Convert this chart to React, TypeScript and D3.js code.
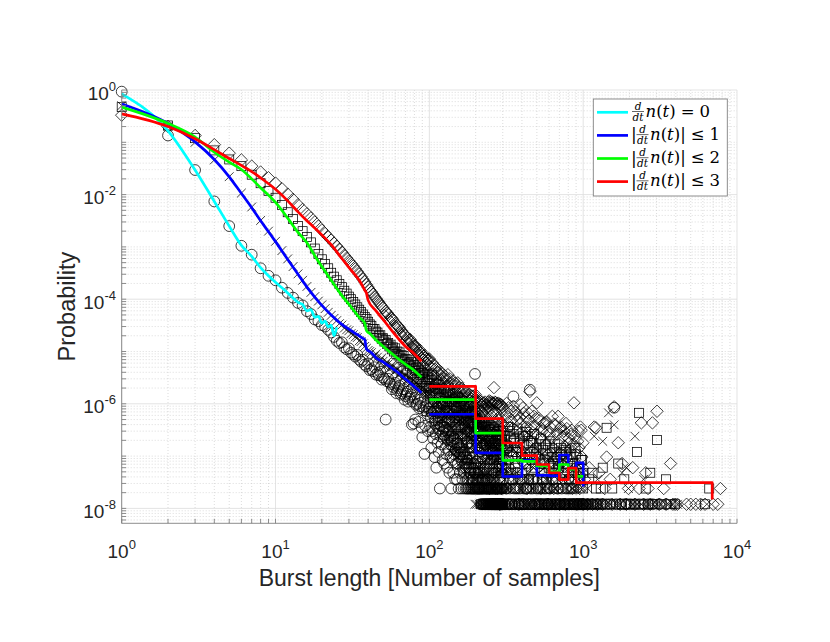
import React from 'react';
import * as d3 from 'd3';

type Pt = [number, number];

// one count in the tail histograms, as a probability
const UNIT = 1.2e-8;

// smoothed curves (burst length, probability)
const CYAN_LINE: Pt[] = [
  [1, 0.84], [2, 0.166], [3, 0.0295], [4, 0.0074], [5, 0.0025], [6, 0.00107], [7, 6.6e-4], [8, 4.0e-4],
  [9, 2.8e-4], [10, 2.1e-4], [11, 1.66e-4], [12, 1.32e-4], [13, 1.05e-4], [14, 8.7e-5], [15, 7.9e-5],
  [16, 6.0e-5], [17, 6.3e-5], [18, 4.5e-5], [19, 4.7e-5], [20, 3.5e-5], [21, 3.8e-5], [22, 2.95e-5],
  [23, 3.2e-5], [24, 2.0e-5], [25, 2.9e-5],
];
const BLUE_LINE: Pt[] = [
  [1, 0.54], [2, 0.229], [3, 0.102], [4, 0.0468], [5, 0.0219], [6, 0.0105], [7, 0.00562], [8, 0.00316],
  [9, 0.00195], [10, 0.00126], [12, 5.75e-4], [14, 3.0e-4], [16, 1.7e-4], [18, 1.1e-4], [20, 7.6e-5],
  [23, 5.0e-5], [27, 3.3e-5], [31, 2.5e-5], [34, 2.1e-5], [37, 1.78e-5], [38, 1.7e-5], [39, 1.12e-5],
  [42, 9.5e-6], [45, 7.6e-6], [50, 6.3e-6], [56, 5.0e-6], [61, 4.2e-6], [67, 3.3e-6], [75, 2.5e-6],
  [82, 2.0e-6], [89, 1.62e-6],
];
const GREEN_LINE: Pt[] = [
  [1, 0.47], [2, 0.229], [3, 0.126], [4, 0.0646], [5, 0.0417], [6, 0.0302], [7, 0.02], [8, 0.0135],
  [10, 0.00708], [12, 0.00355], [14, 0.0019], [16, 0.0012], [18, 6.8e-4], [20, 4.2e-4], [23, 2.3e-4],
  [27, 1.17e-4], [31, 7.1e-5], [35, 4.5e-5], [38, 3.5e-5], [39, 2.5e-5], [41, 2.2e-5], [45, 1.66e-5],
  [50, 1.26e-5], [57, 9.1e-6], [64, 6.9e-6], [71, 5.5e-6], [79, 4.4e-6], [89, 3.2e-6],
];
const RED_LINE: Pt[] = [
  [1, 0.35], [2, 0.2], [3, 0.117], [4, 0.0724], [5, 0.049], [6, 0.0363], [7, 0.0275], [8, 0.0209],
  [10, 0.0126], [12, 0.00759], [14, 0.00468], [16, 0.00316], [18, 0.00229], [20, 0.0017], [23, 0.0011],
  [27, 6.0e-4], [31, 3.6e-4], [35, 2.3e-4], [38, 1.5e-4], [39, 1.3e-4], [40, 9.5e-5], [45, 6.0e-5],
  [50, 4.1e-5], [57, 2.5e-5], [64, 1.66e-5], [71, 1.2e-5], [79, 9.3e-6], [89, 6.5e-6],
];

// binned tails, drawn as stairs
const BLUE_STEPS: Pt[] = [
  [100, 6.31e-7], [200, 1.15e-7], [300, 4.07e-8], [400, 8.3e-8], [500, 4.27e-8], [600, 4.17e-8],
  [700, 1.05e-7], [800, 5.9e-8], [900, 7.4e-8], [1000, 2.63e-8],
];
const GREEN_STEPS: Pt[] = [
  [100, 1.2e-6], [200, 2.75e-7], [300, 8.3e-8], [400, 7.9e-8], [500, 6.5e-8], [600, 5.0e-8],
  [700, 6.9e-8], [800, 5.6e-8], [900, 4.1e-8], [1000, 4.1e-8],
];
const RED_STEPS: Pt[] = [
  [100, 2.15e-6], [200, 5.2e-7], [300, 1.78e-7], [400, 1.02e-7], [500, 6.9e-8], [600, 4.8e-8],
  [700, 3.55e-8], [800, 5.9e-8], [900, 3.1e-8], [6900, 1.48e-8],
];

// raw probabilities for burst lengths 1..99
const CIRCLE_HEAD = [
  0.93, 0.135, 0.0295, 0.0074, 0.0025, 0.00105, 7.1e-4, 3.9e-4, 2.8e-4, 2.3e-4,
  1.66e-4, 1.32e-4, 1.07e-4, 8.5e-5, 7.6e-5, 5.9e-5, 5.2e-5, 4.1e-5, 3.8e-5, 3.2e-5,
  3.0e-5, 2.6e-5, 2.3e-5, 1.9e-5, 1.6e-5, 1.45e-5, 1.5e-5, 1.2e-5, 1.1e-5, 1.15e-5,
  9.5e-6, 8.8e-6, 8.0e-6, 8.6e-6, 7.0e-6, 6.4e-6, 6.9e-6, 5.6e-6, 5.2e-6, 5.9e-6,
  4.4e-6, 4.6e-6, 4.2e-6, 5.0e-6, 3.6e-6, 3.9e-6, 3.5e-6, 4.1e-6, 2.9e-6, 3.2e-6,
  3.0e-6, 5.0e-7, 2.7e-6, 3.0e-6, 2.6e-6, 2.4e-6, 1.9e-6, 2.1e-6, 2.3e-6, 2.5e-6,
  1.6e-6, 1.8e-6, 2.0e-6, 2.2e-6, 1.5e-6, 1.6e-6, 1.75e-6, 1.9e-6, 1.2e-6, 1.4e-6,
  1.55e-6, 1.7e-6, 1.1e-6, 1.25e-6, 1.35e-6, 1.5e-6, 4.0e-7, 1.1e-6, 4.2e-7, 1.3e-6,
  5.0e-7, 9.5e-7, 1.0e-6, 1.2e-6, 4.5e-7, 8.2e-7, 9.0e-7, 1.05e-6, 3.5e-7, 2.3e-7,
  7.5e-7, 8.5e-7, 1.1e-7, 3.8e-7, 9.0e-7, 7.2e-7, 6.4e-7, 3.0e-7, 8.0e-7,
];
const XMARK_HEAD = [
  0.5, 0.2, 0.1, 0.046, 0.022, 0.0107, 0.0058, 0.0032, 0.002, 0.00128,
  8.5e-4, 5.9e-4, 4.2e-4, 3.05e-4, 2.3e-4, 1.75e-4, 1.35e-4, 1.12e-4, 9.2e-5, 7.8e-5,
  6.6e-5, 5.6e-5, 4.9e-5, 4.3e-5, 3.9e-5, 3.4e-5, 3.2e-5, 2.8e-5, 2.6e-5, 2.5e-5,
  2.2e-5, 2.1e-5, 1.9e-5, 1.85e-5, 1.6e-5, 1.55e-5, 1.4e-5, 1.25e-5, 1.15e-5, 1.05e-5,
  1.0e-5, 9.5e-6, 8.0e-6, 8.2e-6, 9.0e-6, 7.8e-6, 6.2e-6, 6.9e-6, 7.5e-6, 6.5e-6,
  5.2e-6, 5.6e-6, 6.3e-6, 5.8e-6, 4.6e-6, 4.9e-6, 5.5e-6, 5.1e-6, 4.0e-6, 4.3e-6,
  4.8e-6, 4.5e-6, 3.5e-6, 3.8e-6, 4.2e-6, 3.9e-6, 3.0e-6, 3.3e-6, 3.7e-6, 3.5e-6,
  2.6e-6, 2.9e-6, 3.3e-6, 3.1e-6, 2.4e-6, 2.6e-6, 3.0e-6, 2.8e-6, 2.0e-6, 2.3e-6,
  2.7e-6, 2.5e-6, 1.8e-6, 2.1e-6, 2.4e-6, 2.2e-6, 1.6e-6, 1.9e-6, 2.2e-6, 2.0e-6,
  1.5e-6, 1.7e-6, 2.0e-6, 1.8e-6, 1.35e-6, 1.5e-6, 1.8e-6, 1.65e-6, 1.3e-6,
];
const SQUARE_HEAD = [
  0.47, 0.21, 0.12, 0.07, 0.047, 0.035, 0.024, 0.0165, 0.0118, 0.0087,
  0.0063, 0.0046, 0.0034, 0.0025, 0.002, 0.00155, 0.00122, 9.3e-4, 7.3e-4, 5.8e-4,
  4.7e-4, 3.9e-4, 3.2e-4, 2.7e-4, 2.3e-4, 1.95e-4, 1.7e-4, 1.45e-4, 1.28e-4, 1.12e-4,
  1.0e-4, 8.8e-5, 7.9e-5, 7.0e-5, 6.3e-5, 5.7e-5, 5.1e-5, 4.6e-5, 4.2e-5, 3.7e-5,
  3.3e-5, 3.1e-5, 2.7e-5, 2.7e-5, 2.4e-5, 2.3e-5, 2.0e-5, 2.05e-5, 1.75e-5, 1.8e-5,
  1.55e-5, 1.65e-5, 1.4e-5, 1.45e-5, 1.25e-5, 1.35e-5, 1.1e-5, 1.2e-5, 1.0e-5, 1.15e-5,
  9.0e-6, 1.0e-5, 8.4e-6, 9.6e-6, 7.6e-6, 8.5e-6, 7.0e-6, 8.2e-6, 6.4e-6, 7.2e-6,
  4.5e-6, 7.0e-6, 5.8e-6, 6.1e-6, 5.2e-6, 6.3e-6, 3.8e-6, 5.4e-6, 4.7e-6, 5.5e-6,
  4.3e-6, 4.8e-6, 3.0e-6, 5.0e-6, 3.9e-6, 4.3e-6, 3.6e-6, 4.5e-6, 2.6e-6, 3.9e-6,
  3.3e-6, 4.0e-6, 3.0e-6, 3.5e-6, 2.2e-6, 3.7e-6, 2.8e-6, 3.2e-6, 2.0e-6,
];
const DIAMOND_HEAD = [
  0.33, 0.2, 0.135, 0.09, 0.062, 0.046, 0.035, 0.027, 0.021, 0.0166,
  0.013, 0.0102, 0.0081, 0.0064, 0.0052, 0.0043, 0.0036, 0.003, 0.0025, 0.0021,
  0.0018, 0.00155, 0.00135, 0.00118, 0.00103, 9.0e-4, 7.9e-4, 6.9e-4, 6.1e-4, 5.4e-4,
  4.8e-4, 4.3e-4, 3.8e-4, 3.4e-4, 3.0e-4, 2.7e-4, 2.4e-4, 2.15e-4, 1.9e-4, 1.7e-4,
  1.5e-4, 1.38e-4, 1.25e-4, 1.13e-4, 1.03e-4, 9.4e-5, 8.7e-5, 7.9e-5, 7.3e-5, 6.8e-5,
  4.9e-5, 5.9e-5, 5.5e-5, 5.1e-5, 3.9e-5, 4.5e-5, 4.3e-5, 4.0e-5, 3.1e-5, 3.5e-5,
  2.8e-5, 3.1e-5, 3.0e-5, 2.8e-5, 2.2e-5, 2.5e-5, 1.9e-5, 2.2e-5, 2.1e-5, 2.0e-5,
  1.6e-5, 1.8e-5, 1.4e-5, 1.65e-5, 1.7e-5, 1.5e-5, 1.2e-5, 1.38e-5, 1.1e-5, 1.27e-5,
  1.3e-5, 1.17e-5, 9.5e-6, 1.08e-5, 8.5e-6, 1.0e-5, 1.05e-5, 9.3e-6, 7.5e-6, 8.7e-6,
  6.8e-6, 8.1e-6, 8.5e-6, 7.6e-6, 6.2e-6, 7.1e-6, 5.6e-6, 6.7e-6, 7.0e-6,
];

// raw counts for burst lengths 100..299
const CIRCLE_MID = [
  70, 30, 45, 12, 55, 25, 18, 60, 8, 40, 22, 5, 35, 15, 48, 10, 28, 2, 20, 32,
  14, 38, 7, 25, 18, 6, 30, 12, 22, 9, 26, 5, 17, 11, 24, 4, 19, 8, 14, 2,
  16, 7, 21, 4, 13, 9, 18, 3, 11, 6, 15, 3, 10, 6, 14, 2, 8, 12, 4, 9,
  11, 2, 7, 13, 3, 9, 5, 2, 10, 4, 6, 9, 2, 5, 8, 2, 7, 3, 2, 6,
  2, 5, 3, 8, 2, 4, 2, 6, 3, 2, 5, 2, 3, 2, 6, 2, 4, 2, 310, 3,
  2, 4, 2, 3, 2, 5, 2, 2, 3, 2, 3, 2, 2, 4, 2, 1, 3, 2, 2, 1,
  2, 3, 1, 2, 2, 4, 1, 2, 3, 1, 2, 1, 3, 2, 1, 2, 2, 1, 3, 2,
  1, 2, 2, 1, 3, 1, 2, 1, 2, 2, 1, 3, 1, 2, 1, 2, 1, 1, 2, 1,
  2, 1, 2, 1, 1, 3, 1, 2, 1, 1, 1, 2, 1, 1, 2, 1, 1, 2, 1, 2,
  1, 1, 2, 1, 1, 1, 2, 1, 1, 1, 2, 1, 1, 1, 2, 1, 1, 1, 2, 1,
];
const XMARK_MID = [
  120, 60, 95, 30, 140, 75, 45, 110, 25, 85, 65, 100, 35, 80, 20, 90, 50, 28, 70, 42,
  85, 22, 60, 40, 15, 70, 48, 30, 62, 18, 55, 35, 75, 14, 45, 20, 65, 28, 10, 50,
  12, 48, 30, 58, 9, 40, 22, 52, 15, 35, 45, 8, 30, 55, 11, 38, 20, 6, 42, 25,
  5, 35, 22, 48, 10, 28, 4, 18, 40, 24, 14, 32, 3, 21, 38, 8, 28, 4, 19, 30,
  16, 3, 30, 12, 22, 2, 26, 7, 18, 29, 6, 20, 2, 27, 10, 17, 3, 24, 1, 31,
  12, 3, 22, 1, 17, 7, 20, 2, 14, 5, 19, 1, 10, 21, 2, 15, 1, 12, 6, 17,
  4, 18, 1, 11, 1, 16, 5, 19, 1, 9, 17, 2, 13, 1, 7, 15, 1, 10, 3, 14,
  1, 12, 4, 16, 1, 8, 1, 13, 3, 7, 15, 1, 9, 2, 13, 1, 6, 11, 2, 5,
  10, 1, 14, 3, 1, 7, 12, 1, 5, 9, 1, 11, 2, 7, 1, 10, 4, 1, 12, 2,
  8, 1, 10, 3, 1, 6, 9, 1, 4, 1, 10, 2, 1, 7, 4, 1, 8, 2, 1, 5,
];
const SQUARE_MID = [
  240, 120, 180, 60, 300, 150, 90, 210, 45, 170, 130, 200, 70, 160, 40, 190, 110, 55, 150, 85,
  170, 45, 120, 80, 30, 140, 95, 60, 125, 35, 110, 70, 150, 28, 90, 40, 130, 55, 20, 100,
  25, 95, 60, 115, 18, 80, 45, 105, 30, 70, 90, 15, 60, 110, 22, 75, 40, 12, 85, 50,
  10, 70, 45, 95, 20, 55, 8, 35, 80, 48, 28, 65, 6, 42, 75, 15, 55, 7, 38, 62,
  32, 5, 60, 24, 45, 4, 52, 14, 36, 58, 12, 40, 3, 55, 20, 34, 5, 48, 2, 62,
  25, 6, 45, 3, 35, 15, 40, 4, 28, 10, 38, 2, 20, 42, 5, 30, 1, 25, 12, 35,
  8, 36, 3, 22, 1, 32, 11, 38, 2, 18, 34, 5, 26, 1, 14, 30, 3, 20, 7, 28,
  1, 24, 9, 32, 2, 16, 1, 27, 6, 15, 30, 2, 18, 4, 26, 1, 12, 22, 5, 10,
  20, 3, 28, 7, 1, 15, 24, 2, 11, 18, 1, 22, 5, 14, 2, 19, 8, 1, 25, 4,
  16, 2, 21, 6, 1, 12, 18, 3, 9, 1, 20, 4, 1, 14, 8, 2, 17, 5, 1, 11,
];
const DIAMOND_MID = [
  600, 250, 420, 130, 510, 310, 180, 450, 95, 380, 270, 410, 150, 330, 75, 360, 210, 120, 300, 240,
  330, 90, 260, 160, 55, 290, 200, 110, 250, 70, 230, 140, 300, 60, 180, 40, 250, 120, 90, 210,
  50, 190, 130, 230, 35, 160, 100, 205, 70, 140, 180, 45, 120, 210, 28, 150, 85, 60, 170, 110,
  30, 140, 95, 165, 50, 120, 22, 75, 150, 105, 60, 130, 18, 90, 145, 40, 110, 25, 80, 120,
  70, 15, 125, 55, 95, 12, 105, 35, 80, 118, 30, 90, 10, 115, 50, 75, 20, 100, 9, 125,
  60, 18, 110, 7, 85, 40, 95, 12, 70, 28, 88, 6, 50, 95, 15, 72, 4, 60, 35, 80,
  22, 90, 9, 55, 3, 75, 30, 85, 5, 45, 90, 14, 65, 4, 38, 80, 8, 52, 20, 70,
  3, 90, 26, 75, 10, 95, 2, 68, 18, 85, 92, 6, 50, 12, 80, 3, 88, 60, 15, 28,
  85, 8, 85, 170, 22, 4, 90, 30, 2, 48, 88, 11, 38, 5, 80, 19, 2, 85, 26, 44,
  9, 86, 3, 40, 75, 14, 30, 1, 82, 20, 45, 6, 80, 25, 2, 78, 12, 35, 72, 4,
];

// sampled burst lengths 300..1000 and the counts found there (0 = none)
const X_300 = [
  300, 306, 312, 318, 324, 331, 338, 345, 352, 359, 366, 374, 382, 390, 398, 406, 414, 423, 432, 441,
  450, 459, 469, 479, 489, 499, 510, 521, 532, 543, 555, 567, 579, 591, 604, 617, 630, 644, 658, 672,
  687, 702, 717, 733, 749, 765, 782, 799, 816, 834, 852, 871, 890, 910, 930, 950, 971, 992,
];
const CIRCLE_300 = [
  2, 1, 1, 2, 1, 1, 3, 1, 115, 1, 2, 1, 1, 2, 1, 1, 1, 2, 1, 1,
  155, 1, 2, 1, 1, 1, 2, 1, 1, 1, 2, 1, 1, 1, 2, 1, 1, 0, 1, 1,
  2, 1, 0, 1, 1, 1, 0, 2, 1, 1, 0, 1, 1, 0, 1, 1, 0, 1,
];
const XMARK_300 = [
  14, 1, 6, 2, 1, 12, 1, 4, 2, 1, 10, 1, 3, 1, 14, 2, 1, 18, 1, 3,
  1, 20, 2, 1, 6, 1, 1, 10, 1, 2, 1, 8, 1, 3, 1, 1, 7, 1, 2, 1,
  1, 5, 1, 24, 1, 12, 1, 1, 5, 1, 2, 1, 1, 6, 1, 1, 4, 1,
];
const SQUARE_300 = [
  25, 2, 12, 1, 30, 3, 18, 1, 22, 2, 10, 28, 1, 15, 3, 20, 1, 24, 2, 8,
  1, 16, 3, 22, 1, 12, 2, 1, 18, 3, 1, 14, 2, 1, 16, 1, 8, 2, 14, 1,
  6, 1, 12, 2, 1, 10, 1, 6, 1, 9, 2, 1, 12, 1, 4, 1, 7, 1,
];
const DIAMOND_300 = [
  65, 5, 40, 85, 12, 30, 60, 8, 75, 3, 50, 40, 1, 80, 24, 70, 6, 45, 2, 55,
  143, 30, 4, 48, 12, 87, 7, 40, 2, 25, 35, 4, 38, 1, 22, 6, 48, 2, 32, 5,
  48, 1, 30, 4, 25, 1, 28, 3, 15, 22, 2, 87, 5, 1, 25, 2, 26, 5,
];

// second set of burst lengths in 300..1000, between the ones above
const X_300B = [
  303, 309, 315, 321, 327, 334, 341, 348, 355, 362, 370, 378, 386, 394, 402, 410, 418, 427, 436, 445,
  454, 464, 474, 484, 494, 504, 515, 526, 537, 549, 561, 573, 585, 597, 610, 623, 637, 651, 665, 679,
  694, 709, 725, 741, 757, 773, 790, 807, 825, 843, 861, 880, 900, 920, 940, 960, 981, 996,
];
const CIRCLE_300B = [
  3, 1, 2, 4, 1, 2, 1, 3, 2, 1, 4, 2, 1, 3, 1, 2, 1, 2, 3, 1,
  2, 1, 3, 1, 2, 1, 1, 2, 1, 3, 1, 2, 1, 1, 2, 1, 3, 1, 1, 2,
  1, 1, 2, 1, 1, 2, 1, 1, 2, 1, 1, 1, 2, 1, 1, 1, 1, 1,
];
const XMARK_300B = [
  5, 3, 9, 4, 15, 2, 6, 11, 3, 7, 4, 13, 2, 8, 5, 3, 10, 2, 6, 4,
  8, 3, 5, 12, 2, 7, 4, 3, 9, 2, 5, 3, 6, 2, 8, 3, 4, 2, 10, 3,
  5, 2, 4, 7, 3, 2, 6, 3, 4, 2, 5, 3, 2, 4, 3, 2, 3, 2,
];
const SQUARE_300B = [
  8, 20, 5, 13, 7, 25, 4, 10, 16, 6, 12, 5, 18, 8, 4, 14, 9, 6, 20, 3,
  10, 7, 15, 5, 9, 3, 14, 6, 4, 11, 7, 3, 9, 5, 12, 4, 6, 10, 3, 8,
  5, 9, 3, 7, 4, 11, 5, 3, 8, 4, 6, 3, 9, 4, 5, 3, 7, 4,
];
const DIAMOND_300B = [
  30, 15, 50, 22, 70, 10, 40, 28, 18, 60, 25, 12, 45, 35, 9, 55, 20, 30, 14, 40,
  26, 60, 11, 32, 22, 8, 44, 18, 28, 6, 36, 14, 24, 9, 30, 18, 12, 34, 7, 22,
  16, 28, 9, 20, 13, 35, 8, 18, 11, 26, 14, 20, 9, 16, 12, 30, 8, 15,
];

// sampled burst lengths 1000..7800 and the counts found there (0 = none)
const X_1000 = [
  1000, 1020, 1045, 1070, 1095, 1120, 1150, 1180, 1210, 1240, 1270, 1300, 1340, 1380, 1420, 1460, 1500, 1545, 1590, 1640,
  1690, 1740, 1790, 1850, 1910, 1970, 2030, 2100, 2170, 2240, 2310, 2390, 2470, 2550, 2640, 2730, 2820, 2920, 3020, 3120,
  3230, 3340, 3460, 3580, 3700, 3830, 3960, 4100, 4400, 4700, 5000, 5400, 5800, 6200, 6600, 7000, 7500, 7800,
];
const CIRCLE_1000 = [
  1, 0, 1, 1, 0, 1, 1, 0, 1, 1, 0, 1, 1, 0, 1, 0, 1, 0, 70, 1,
  0, 1, 0, 1, 1, 0, 1, 0, 1, 0, 1, 0, 1, 0, 1, 0, 1, 0, 0, 1,
  0, 0, 1, 0, 0, 0, 0, 0, 0, 0, 0, 0, 0, 0, 0, 0, 0, 0,
];
const XMARK_1000 = [
  1, 1, 0, 2, 1, 0, 1, 20, 1, 3, 1, 1, 16, 0, 1, 56, 1, 0, 33, 1,
  0, 1, 4, 0, 5, 2, 0, 1, 20, 1, 0, 1, 3, 0, 1, 0, 1, 0, 1, 0,
  1, 0, 0, 1, 0, 1, 0, 1, 0, 0, 0, 0, 0, 0, 0, 0, 0, 0,
];
const SQUARE_1000 = [
  2, 1, 1, 0, 3, 1, 4, 1, 2, 1, 0, 2, 5, 1, 29, 0, 1, 2, 0, 1,
  6, 0, 1, 3, 0, 1, 1, 0, 1, 10, 56, 1, 0, 2, 1, 4, 1, 1, 17, 0,
  1, 0, 3, 0, 1, 0, 1, 0, 0, 0, 0, 0, 0, 1, 2, 0, 0, 0,
];
const DIAMOND_1000 = [
  1, 3, 0, 1, 5, 0, 1, 30, 29, 1, 4, 0, 1, 2, 8, 0, 3, 1, 73, 0,
  15, 1, 6, 0, 1, 2, 0, 5, 1, 0, 2, 36, 1, 4, 2, 1, 36, 0, 60, 1,
  0, 2, 1, 0, 6, 1, 1, 1, 0, 1, 1, 1, 1, 1, 0, 1, 1, 2,
];

const X_TICK_EXP = [0, 1, 2, 3, 4];
const Y_TICK_EXP = [-8, -6, -4, -2, 0];

const LEGEND = [
  { color: '#00ffff', abs: false, rel: '=', k: '0' },
  { color: '#0000ff', abs: true, rel: '≤', k: '1' },
  { color: '#00ff00', abs: true, rel: '≤', k: '2' },
  { color: '#ff0000', abs: true, rel: '≤', k: '3' },
];

const W = 830;
const H = 642;
const LEFT = 121.7;
const RIGHT = 737;
const TOP = 90;
const BOTTOM = 523.3;
const SANS = '"Liberation Sans", Arial, Helvetica, sans-serif';
const SERIF = '"DejaVu Serif", "Liberation Serif", serif';

const xs = d3.scaleLog().domain([1, 1e4]).range([LEFT, RIGHT]);
const ys = d3.scaleLog().domain([Math.pow(10, -8.285), 1]).range([BOTTOM, TOP]);

// head: index 0 is burst length 1; mid: index 0 is burst length 100
const series = (head: number[], mid: number[], sets: [number[], number[]][]): Pt[] => {
  const pts: Pt[] = head.map((p, i) => [i + 1, p] as Pt);
  mid.forEach((c, i) => { if (c > 0) pts.push([100 + i, c * UNIT]); });
  sets.forEach(([xv, counts]) => counts.forEach((c, i) => { if (c > 0) pts.push([xv[i], c * UNIT]); }));
  return pts;
};

const SCATTER: { shape: string; pts: Pt[] }[] = [
  { shape: 'circle', pts: series(CIRCLE_HEAD, CIRCLE_MID, [[X_300, CIRCLE_300], [X_300B, CIRCLE_300B], [X_1000, CIRCLE_1000]]) },
  { shape: 'x', pts: series(XMARK_HEAD, XMARK_MID, [[X_300, XMARK_300], [X_300B, XMARK_300B], [X_1000, XMARK_1000]]) },
  { shape: 'square', pts: series(SQUARE_HEAD, SQUARE_MID, [[X_300, SQUARE_300], [X_300B, SQUARE_300B], [X_1000, SQUARE_1000]]) },
  { shape: 'diamond', pts: series(DIAMOND_HEAD, DIAMOND_MID, [[X_300, DIAMOND_300], [X_300B, DIAMOND_300B], [X_1000, DIAMOND_1000]]) },
];

const isDecade = (v: number) => Math.abs(Math.log10(v) - Math.round(Math.log10(v))) < 1e-9;

function Marker({ shape, x, y }: { shape: string; x: number; y: number }) {
  if (shape === 'circle') return <circle cx={x} cy={y} r={5.4} />;
  if (shape === 'x') return <path d={`M${x - 4.4},${y - 4.4}L${x + 4.4},${y + 4.4}M${x - 4.4},${y + 4.4}L${x + 4.4},${y - 4.4}`} />;
  if (shape === 'square') return <rect x={x - 4.5} y={y - 4.5} width={9} height={9} />;
  return <path d={`M${x},${y - 6.2}L${x + 6.2},${y}L${x},${y + 6.2}L${x - 6.2},${y}Z`} />;
}

function LegendLabel({ x, y, abs, rel, k }: { x: number; y: number; abs: boolean; rel: string; k: string }) {
  let cx = x;
  const bar = abs ? <text x={cx} y={y + 5} fontSize={17}>|</text> : null;
  if (abs) cx += 4.5;
  const fc = cx + 7;
  const tx = fc + 7.5;
  return (
    <g fontFamily={SERIF} fill="#000">
      {bar}
      <text x={fc} y={y - 2.5} fontSize={10.5} fontStyle="italic" textAnchor="middle">d</text>
      <line x1={fc - 6} x2={fc + 6} y1={y - 0.8} y2={y - 0.8} stroke="#000" strokeWidth={0.6} />
      <text x={fc} y={y + 8.6} fontSize={10.5} fontStyle="italic" textAnchor="middle">dt</text>
      <text x={tx} y={y + 4.8} fontSize={16.5}>
        <tspan fontStyle="italic">n</tspan>(<tspan fontStyle="italic">t</tspan>){abs ? '|' : ''}
        <tspan dx={5}>{rel}</tspan><tspan dx={5}>{k}</tspan>
      </text>
    </g>
  );
}

export default function App() {
  const curve = d3.line<Pt>().x(d => xs(d[0])).y(d => ys(d[1])).curve(d3.curveMonotoneX);
  const stairs = d3.line<Pt>().x(d => xs(d[0])).y(d => ys(d[1])).curve(d3.curveStepAfter);

  const xTicks = xs.ticks();
  const yTicks = ys.ticks();
  const xMinor = xTicks.filter(t => !isDecade(t));
  const yMinor = yTicks.filter(t => !(isDecade(t) && Math.round(Math.log10(t)) % 2 === 0));

  const lines = [
    { color: '#00ffff', d: curve(CYAN_LINE) },
    { color: '#0000ff', d: curve(BLUE_LINE) + (stairs(BLUE_STEPS) || '') },
    { color: '#00ff00', d: curve(GREEN_LINE) + (stairs(GREEN_STEPS) || '') },
    { color: '#ff0000', d: curve(RED_LINE) + (stairs(RED_STEPS) || '') },
  ];

  const legendRow = (i: number) => 112.3 + i * 23.1;

  return (
    <svg width={W} height={H} style={{ position: 'absolute', left: 0, top: 0, background: '#fff' }}>
      <rect width={W} height={H} fill="#fff" />

      {/* minor grid */}
      <g stroke="#c4c4c4" strokeWidth={0.6} strokeDasharray="1,2">
        {xMinor.map(t => <line key={'xm' + t} x1={xs(t)} x2={xs(t)} y1={TOP} y2={BOTTOM} />)}
        {yMinor.map(t => <line key={'ym' + t} x1={LEFT} x2={RIGHT} y1={ys(t)} y2={ys(t)} />)}
      </g>
      {/* major grid */}
      <g stroke="#dcdcdc" strokeWidth={0.8}>
        {X_TICK_EXP.map(e => <line key={'xg' + e} x1={xs(10 ** e)} x2={xs(10 ** e)} y1={TOP} y2={BOTTOM} />)}
        {Y_TICK_EXP.map(e => <line key={'yg' + e} x1={LEFT} x2={RIGHT} y1={ys(10 ** e)} y2={ys(10 ** e)} />)}
      </g>

      {/* raw points */}
      <g fill="none" stroke="#000" strokeWidth={0.75}>
        {SCATTER.map(s => s.pts.map((p, i) => (
          <Marker key={s.shape + i} shape={s.shape} x={xs(p[0])} y={ys(p[1])} />
        )))}
      </g>

      {/* curves and stairs */}
      <g fill="none" strokeWidth={2.7} strokeLinejoin="round">
        {lines.map(l => <path key={l.color} d={l.d || ''} stroke={l.color} />)}
      </g>

      {/* axes */}
      <g stroke="#808080" strokeWidth={0.9}>
        <line x1={LEFT} x2={RIGHT} y1={BOTTOM} y2={BOTTOM} />
        <line x1={LEFT} x2={LEFT} y1={TOP} y2={BOTTOM} />
        {xTicks.map(t => <line key={'xt' + t} x1={xs(t)} x2={xs(t)} y1={BOTTOM} y2={BOTTOM - 4.5} />)}
        {yTicks.map(t => <line key={'yt' + t} x1={LEFT} x2={LEFT + 4.5} y1={ys(t)} y2={ys(t)} />)}
      </g>

      <g fontFamily={SANS} fill="#262626">
        {X_TICK_EXP.map(e => (
          <text key={'xl' + e} x={xs(10 ** e)} y={558} fontSize={19} textAnchor="middle">
            10<tspan dy={-9} fontSize={13}>{e}</tspan>
          </text>
        ))}
        {Y_TICK_EXP.map(e => (
          <text key={'yl' + e} x={116} y={ys(10 ** e) + 9.5} fontSize={19} textAnchor="end">
            10<tspan dy={-9} fontSize={13}>{e < 0 ? '-' + -e : String(e)}</tspan>
          </text>
        ))}
        <text x={(LEFT + RIGHT) / 2} y={586} fontSize={23} textAnchor="middle">Burst length [Number of samples]</text>
        <text transform={`translate(75,${(TOP + BOTTOM) / 2}) rotate(-90)`} fontSize={23.5} textAnchor="middle">Probability</text>
      </g>

      {/* legend */}
      <rect x={593.3} y={99} width={134} height={97} fill="#fff" stroke="#808080" strokeWidth={0.9} />
      {LEGEND.map((l, i) => (
        <g key={l.color}>
          <line x1={597} x2={628} y1={legendRow(i)} y2={legendRow(i)} stroke={l.color} strokeWidth={2.7} />
          <LegendLabel x={631} y={legendRow(i)} abs={l.abs} rel={l.rel} k={l.k} />
        </g>
      ))}
    </svg>
  );
}
